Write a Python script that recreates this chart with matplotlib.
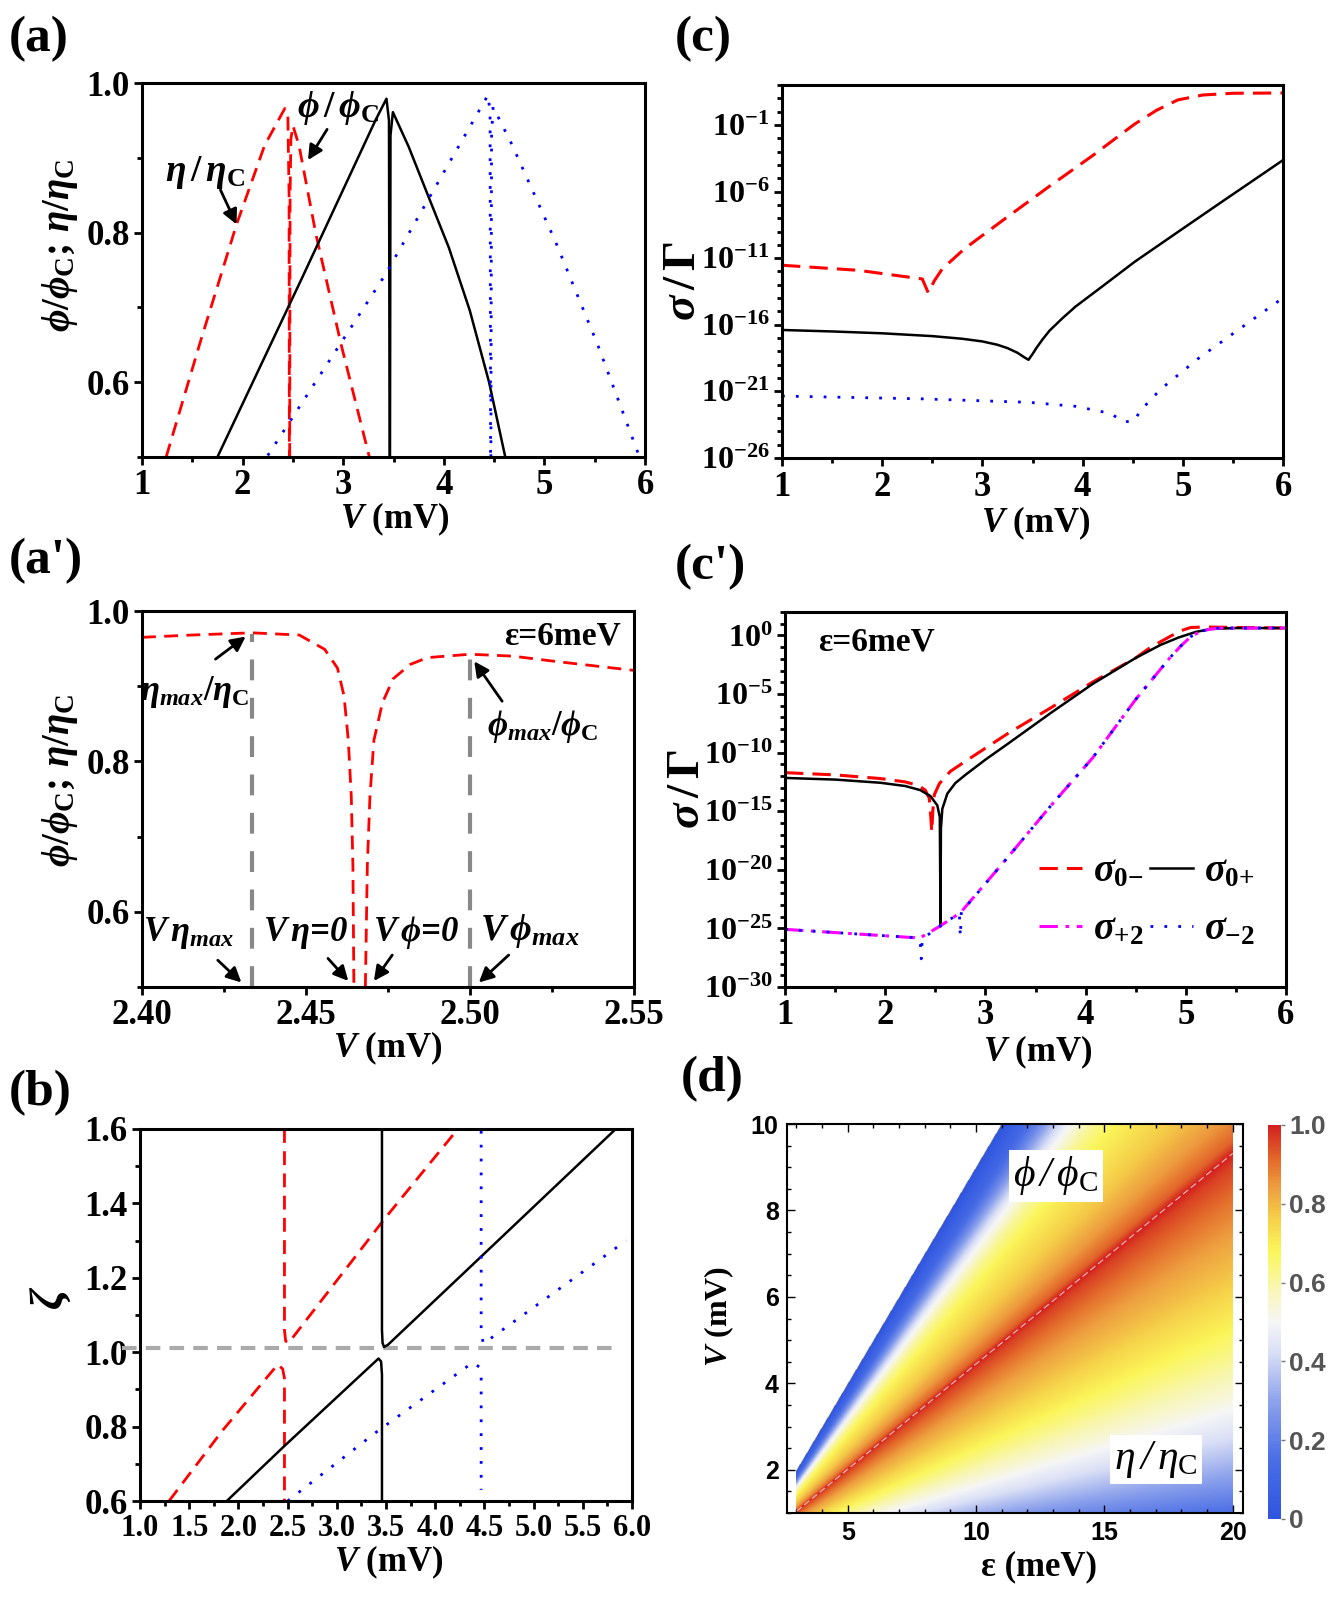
import numpy as np
import matplotlib.pyplot as plt
from matplotlib.colors import LinearSegmentedColormap
from matplotlib.ticker import FixedLocator, MultipleLocator, FuncFormatter

plt.rcParams['font.family'] = ['Liberation Serif', 'DejaVu Serif']
plt.rcParams['font.weight'] = 'bold'
plt.rcParams['mathtext.fontset'] = 'custom'
plt.rcParams['mathtext.rm'] = 'Liberation Serif:bold'
plt.rcParams['mathtext.it'] = 'Liberation Serif:italic:bold'
plt.rcParams['mathtext.bf'] = 'Liberation Serif:bold'
plt.rcParams['mathtext.sf'] = 'Liberation Serif:italic:regular'
plt.rcParams['mathtext.tt'] = 'Liberation Serif:regular'

# ---------------- data ----------------
# (a)  phi/phiC and eta/etaC vs V
a_red_eta_V = [1.24, 1.58, 1.94, 2.22, 2.42, 2.45, 2.462, 2.465]
a_red_eta_y = [0.50, 0.654, 0.811, 0.917, 0.966, 0.955, 0.85, 0.50]
a_red_phi_V = [2.468, 2.472, 2.48, 2.50, 2.56, 2.73, 2.98, 3.26]
a_red_phi_y = [0.50, 0.85, 0.925, 0.943, 0.917, 0.797, 0.650, 0.50]
a_blk_eta_V = [1.75, 2.60, 3.32, 3.43, 3.455, 3.462]
a_blk_eta_y = [0.50, 0.742, 0.950, 0.979, 0.95, 0.50]
a_blk_phi_V = [3.465, 3.47, 3.494, 3.65, 3.833, 4.05, 4.258, 4.45, 4.611]
a_blk_phi_y = [0.50, 0.93, 0.961, 0.915, 0.853, 0.78, 0.696, 0.60, 0.50]
a_blu_eta_V = [2.25, 3.41, 4.44, 4.46, 4.465]
a_blu_eta_y = [0.502, 0.742, 0.984, 0.96, 0.50]
a_blu_phi_V = [4.468, 4.475, 4.49, 4.68, 5.11, 5.53, 5.94]
a_blu_phi_y = [0.50, 0.93, 0.968, 0.917, 0.788, 0.650, 0.502]

# (a') zoom at eps = 6 meV
ap_eta_V = [2.400, 2.415, 2.4335, 2.448, 2.4557, 2.4596, 2.4616, 2.4629, 2.4638, 2.4643, 2.4646]
ap_eta_y = [0.965, 0.968, 0.971, 0.968, 0.949, 0.924, 0.887, 0.828, 0.754, 0.662, 0.50]
ap_phi_V = [2.4681, 2.4687, 2.4695, 2.4707, 2.4733, 2.4766, 2.4818, 2.487, 2.500, 2.513, 2.526, 2.550]
ap_phi_y = [0.50, 0.662, 0.754, 0.828, 0.878, 0.910, 0.929, 0.938, 0.9425, 0.940, 0.933, 0.921]
ap_marks_V = [2.4335, 2.500]
ap_marks_top = [0.970, 0.943]

# (b) zeta vs V
b_red_eta_V = [1.295, 1.84, 2.40, 2.45, 2.468, 2.468]
b_red_eta_z = [0.60, 0.79, 0.967, 0.955, 0.93, 0.60]
b_red_phi_V = [2.468, 2.468, 2.48, 2.51, 3.49, 4.23]
b_red_phi_z = [1.60, 1.06, 1.03, 1.025, 1.36, 1.60]
b_blk_eta_V = [1.882, 2.468, 3.424, 3.45, 3.459, 3.459]
b_blk_eta_z = [0.60, 0.748, 0.983, 0.975, 0.94, 0.60]
b_blk_phi_V = [3.459, 3.459, 3.465, 3.48, 3.52, 4.467, 5.835]
b_blk_phi_z = [1.60, 1.06, 1.025, 1.014, 1.02, 1.257, 1.60]
b_blu_eta_V = [2.50, 3.40, 4.38, 4.45, 4.467, 4.467]
b_blu_eta_z = [0.60, 0.785, 0.972, 0.96, 0.93, 0.63]
b_blu_phi_V = [4.467, 4.467, 4.49, 5.94]
b_blu_phi_z = [1.595, 1.05, 1.023, 1.30]
b_ref_V = [0.82, 5.83]
b_ref_z = [1.012, 1.012]

# (c) log10(sigma/Gamma) vs V
c_red_V = [1.0, 1.76, 2.40, 2.46, 2.52, 2.60, 2.82, 3.25, 3.67, 4.10, 4.52, 4.74, 4.95, 5.2, 5.5, 6.0]
c_red_L = [-11.53, -11.91, -12.56, -13.6, -12.7, -11.8, -10.3, -7.9, -5.6, -3.3, -0.93, 0.11, 0.88, 1.25, 1.38, 1.40]
c_blk_V = [1.0, 1.5, 2.0, 2.5, 2.8, 3.0, 3.15, 3.25, 3.35, 3.42, 3.46, 3.50, 3.54, 3.60, 3.67, 3.8,
           3.93, 4.2, 4.52, 5.0, 5.37, 6.0]
c_blk_L = [-16.39, -16.5, -16.64, -16.85, -17.05, -17.25, -17.5, -17.75, -18.1, -18.45, -18.63, -18.2,
           -17.73, -17.1, -16.44, -15.5, -14.63, -13.1, -11.27, -8.78, -6.87, -3.64]
c_blu_V = [1.0, 2.40, 3.46, 3.93, 4.27, 4.42, 4.52, 4.57, 4.78, 5.16, 6.0]
c_blu_L = [-21.35, -21.56, -21.82, -22.12, -22.64, -23.29, -23.2, -22.5, -20.83, -18.5, -13.98]

# (c') log10(sigma/Gamma) vs V at eps = 6 meV
cp_red_V = [1.0, 1.5, 1.95, 2.2, 2.33, 2.40, 2.44, 2.455, 2.465, 2.475, 2.49, 2.54, 2.65, 2.8, 3.22,
            3.65, 4.07, 4.5, 4.65, 4.84, 4.95, 5.05, 5.2, 5.5, 6.0]
cp_red_L = [-11.71, -11.9, -12.21, -12.5, -12.8, -13.2, -13.9, -15.5, -16.76, -15.0, -13.6, -12.65,
            -11.6, -10.74, -8.39, -6.19, -3.98, -1.92, -1.0, -0.1, 0.4, 0.68, 0.72, 0.68, 0.63]
cp_blk_V = [1.0, 1.5, 1.95, 2.2, 2.35, 2.45, 2.52, 2.545, 2.552, 2.556, 2.57, 2.62, 2.7, 2.8, 3.0,
            3.22, 3.65, 4.07, 4.5, 4.75, 4.93, 5.1, 5.25, 5.5, 6.0]
cp_blk_L = [-12.16, -12.3, -12.57, -12.85, -13.2, -13.7, -14.5, -15.5, -24.84, -16.5, -14.8, -13.5,
            -12.6, -11.9, -10.6, -9.27, -6.63, -4.14, -1.92, -0.8, -0.17, 0.3, 0.55, 0.63, 0.63]
cp_mag_V = [1.0, 2.29, 2.33, 2.54, 2.75, 3.22, 3.65, 4.07, 4.50, 4.84, 4.95, 5.05, 5.15, 5.25, 5.35, 6.0]
cp_mag_L = [-25.08, -25.79, -25.9, -24.84, -23.67, -18.97, -14.56, -10.45, -5.46, -1.92, -0.9, -0.1,
            0.35, 0.55, 0.63, 0.63]
cp_blu_V = [1.0, 2.29, 2.35, 2.36, 2.37, 2.54, 2.74, 2.75, 2.76, 3.22, 3.65, 4.07, 4.50, 4.84, 4.95,
            5.05, 5.15, 5.25, 5.35, 6.0]
cp_blu_L = [-25.08, -25.79, -26.2, -27.6, -25.9, -24.84, -23.7, -25.7, -23.6, -18.97, -14.56, -10.45,
            -5.46, -1.92, -0.9, -0.1, 0.35, 0.55, 0.63, 0.63]

# (d) map: ridge (max) line, upper data edge and profiles read across the map
ridge_eps = [3.0, 20.0]
ridge_V = [1.04, 9.32]
edge_eps = [3.0, 11.0]
edge_V = [1.97, 10.0]
eta_s = [0, 0.1, 0.2, 0.3, 0.4, 0.5, 0.6, 0.7, 0.8, 0.9, 0.97, 1.0]
eta_val = [0.0, 0.14, 0.30, 0.43, 0.54, 0.63, 0.71, 0.78, 0.84, 0.91, 0.96, 1.0]
phi_t = [0, 0.03, 0.1, 0.2, 0.3, 0.4, 0.5, 0.6, 0.67, 0.75, 0.85, 1.0]
phi_val = [1.0, 0.92, 0.85, 0.78, 0.73, 0.68, 0.60, 0.48, 0.36, 0.22, 0.10, 0.0]

# ---------------- figure ----------------
W, H = 1332, 1599
fig = plt.figure(figsize=(W / 100, H / 100), dpi=100)


def box(l, t, r, b):
    return [l / W, 1 - b / H, (r - l) / W, (b - t) / H]


def style(ax, lsize=25):
    for s in ax.spines.values():
        s.set_linewidth(2.2)
    ax.tick_params(which='both', direction='out', width=2, top=False, right=False,
                   labelsize=lsize, pad=3)
    ax.tick_params(which='major', length=6)
    ax.tick_params(which='minor', length=3.5)


RED = '#ff0000'
BLU = '#0000ff'
dash = (0, (5, 3))
dot = (0, (1, 4))
arr = dict(arrowstyle='-|>', color='k', lw=2, mutation_scale=22, shrinkA=0, shrinkB=0)
ylab_ratio = r'$\phi/\phi_{\rm C};\,\eta/\eta_{\rm C}$'
xlab_V = r'$V$ (mV)'

# (a)
ax = fig.add_axes(box(142, 83, 645, 457))
ax.plot(a_red_eta_V, a_red_eta_y, color=RED, lw=2, ls=dash)
ax.plot(a_red_phi_V, a_red_phi_y, color=RED, lw=2, ls=dash)
ax.plot(a_blk_eta_V, a_blk_eta_y, color='k', lw=1.8)
ax.plot(a_blk_phi_V, a_blk_phi_y, color='k', lw=1.8)
ax.plot(a_blu_eta_V, a_blu_eta_y, color=BLU, lw=2, ls=dot)
ax.plot(a_blu_phi_V, a_blu_phi_y, color=BLU, lw=2, ls=dot)
ax.set_xlim(1, 6)
ax.set_ylim(0.5, 1.0)
ax.xaxis.set_major_locator(MultipleLocator(1))
ax.xaxis.set_minor_locator(MultipleLocator(0.5))
ax.yaxis.set_major_locator(FixedLocator([0.6, 0.8, 1.0]))
ax.yaxis.set_minor_locator(FixedLocator([0.5, 0.7, 0.9]))
ax.yaxis.set_major_formatter(FuncFormatter(lambda v, p: f'{v:.1f}'))
style(ax)
ax.annotate('', xy=(2.65, 0.897), xytext=(2.84, 0.938), arrowprops=arr)
ax.text(2.95, 0.967, r'$\phi\,/\,\phi_{\rm C}$', fontsize=27, ha='center', va='center')
ax.annotate('', xy=(1.94, 0.811), xytext=(1.78, 0.857), arrowprops=arr)
ax.text(1.63, 0.881, r'$\eta\,/\,\eta_{\rm C}$', fontsize=27, ha='center', va='center')
fig.text(60 / W, 1 - 245 / H, ylab_ratio, rotation=90, ha='center', va='center', fontsize=28)
fig.text(395 / W, 1 - 519 / H, xlab_V, ha='center', va='center', fontsize=25)

# (a')
ax = fig.add_axes(box(142, 611, 634, 987))
ax.vlines(ap_marks_V, 0.5, ap_marks_top, colors='#888888', lw=3, linestyles=[(0, (5, 4.2))])
ax.plot(ap_eta_V, ap_eta_y, color=RED, lw=2, ls=dash)
ax.plot(ap_phi_V, ap_phi_y, color=RED, lw=2, ls=dash)
ax.set_xlim(2.40, 2.55)
ax.set_ylim(0.5, 1.0)
ax.xaxis.set_major_locator(FixedLocator([2.40, 2.45, 2.50, 2.55]))
ax.xaxis.set_minor_locator(FixedLocator([2.425, 2.475, 2.525]))
ax.xaxis.set_major_formatter(FuncFormatter(lambda v, p: f'{v:.2f}'))
ax.yaxis.set_major_locator(FixedLocator([0.6, 0.8, 1.0]))
ax.yaxis.set_minor_locator(FixedLocator([0.5, 0.7, 0.9]))
ax.yaxis.set_major_formatter(FuncFormatter(lambda v, p: f'{v:.1f}'))
style(ax)
ax.text(2.546, 0.967, 'ε=6meV', ha='right', va='center', fontsize=24)
ax.annotate('', xy=(2.4316, 0.966), xytext=(2.4224, 0.936), arrowprops=arr)
ax.text(2.4162, 0.892, r'$\eta_{max}/\eta_{\rm C}$', fontsize=25, ha='center', va='center')
ax.annotate('', xy=(2.5013, 0.933), xytext=(2.5098, 0.880), arrowprops=arr)
ax.text(2.5222, 0.846, r'$\phi_{max}/\phi_{\rm C}$', fontsize=25, ha='center', va='center')
ax.text(2.4142, 0.572, r'$V\,\eta_{max}$', fontsize=25, ha='center', va='center')
ax.annotate('', xy=(2.4303, 0.506), xytext=(2.4231, 0.5356), arrowprops=arr)
ax.text(2.450, 0.572, r'$V\,\eta$=0', fontsize=25, fontstyle='italic', ha='center', va='center')
ax.annotate('', xy=(2.4629, 0.508), xytext=(2.4567, 0.538), arrowprops=arr)
ax.text(2.4837, 0.572, r'$V\,\phi$=0', fontsize=25, fontstyle='italic', ha='center', va='center')
ax.annotate('', xy=(2.4707, 0.508), xytext=(2.4763, 0.5425), arrowprops=arr)
ax.text(2.5183, 0.575, r'$V\,\phi_{max}$', fontsize=27, ha='center', va='center')
ax.annotate('', xy=(2.5027, 0.506), xytext=(2.5118, 0.5425), arrowprops=arr)
fig.text(60 / W, 1 - 780 / H, ylab_ratio, rotation=90, ha='center', va='center', fontsize=28)
fig.text(388 / W, 1 - 1048 / H, xlab_V, ha='center', va='center', fontsize=25)

# (b)
ax = fig.add_axes(box(140, 1129, 632, 1501))
ax.plot(b_ref_V, b_ref_z, color='#aaaaaa', lw=3, ls=(0, (3.5, 2.2)), clip_on=False)
ax.plot(b_red_eta_V, b_red_eta_z, color=RED, lw=2, ls=dash)
ax.plot(b_red_phi_V, b_red_phi_z, color=RED, lw=2, ls=dash)
ax.plot(b_blk_eta_V, b_blk_eta_z, color='k', lw=1.8)
ax.plot(b_blk_phi_V, b_blk_phi_z, color='k', lw=1.8)
ax.plot(b_blu_eta_V, b_blu_eta_z, color=BLU, lw=2, ls=dot)
ax.plot(b_blu_phi_V, b_blu_phi_z, color=BLU, lw=2, ls=dot)
ax.set_xlim(1, 6)
ax.set_ylim(0.6, 1.6)
ax.xaxis.set_major_locator(MultipleLocator(0.5))
ax.xaxis.set_minor_locator(MultipleLocator(0.25))
ax.xaxis.set_major_formatter(FuncFormatter(lambda v, p: f'{v:.1f}'))
ax.yaxis.set_major_locator(MultipleLocator(0.2))
ax.yaxis.set_minor_locator(MultipleLocator(0.1))
ax.yaxis.set_major_formatter(FuncFormatter(lambda v, p: f'{v:.1f}'))
style(ax)
ax.tick_params(axis='x', labelsize=22)
fig.text(51 / W, 1 - 1298 / H, r'$\zeta$', rotation=90, ha='center', va='center', fontsize=34)
fig.text(389 / W, 1 - 1562 / H, xlab_V, ha='center', va='center', fontsize=25)


def logfmt(v, p):
    return r'$\mathbf{10^{%d}}$' % int(round(np.log10(v)))


# (c)
ax = fig.add_axes(box(782, 85, 1283, 458))
ax.semilogy(c_red_V, 10.0 ** np.array(c_red_L), color=RED, lw=2.2, ls=(0, (6, 3)))
ax.semilogy(c_blk_V, 10.0 ** np.array(c_blk_L), color='k', lw=1.8)
ax.semilogy(c_blu_V, 10.0 ** np.array(c_blu_L), color=BLU, lw=2, ls=dot)
ax.set_xlim(1, 6)
ax.set_ylim(1e-26, 1e2)
ax.xaxis.set_major_locator(MultipleLocator(1))
ax.xaxis.set_minor_locator(MultipleLocator(0.5))
ax.yaxis.set_major_locator(FixedLocator([10.0 ** k for k in range(-26, 2, 5)]))
ax.yaxis.set_minor_locator(FixedLocator([10.0 ** k for k in range(-26, 3)]))
ax.yaxis.set_major_formatter(FuncFormatter(logfmt))
ax.yaxis.set_minor_formatter(FuncFormatter(lambda v, p: ''))
style(ax)
ax.tick_params(axis='y', labelsize=23)
fig.text(684 / W, 1 - 281 / H, r'$\sigma\,/\,\Gamma$', rotation=90, ha='center', va='center', fontsize=34)
fig.text(1036 / W, 1 - 523 / H, xlab_V, ha='center', va='center', fontsize=25)

# (c')
ax = fig.add_axes(box(785, 612, 1286, 987))
h1, = ax.semilogy(cp_red_V, 10.0 ** np.array(cp_red_L), color=RED, lw=2.2, ls=(0, (6, 3)))
h2, = ax.semilogy(cp_blk_V, 10.0 ** np.array(cp_blk_L), color='k', lw=1.8)
h3, = ax.semilogy(cp_mag_V, 10.0 ** np.array(cp_mag_L), color='#ff00ff', lw=2.2,
                  ls=(0, (6, 2.5, 1.2, 2.5)))
h4, = ax.semilogy(cp_blu_V, 10.0 ** np.array(cp_blu_L), color=BLU, lw=2, ls=dot)
ax.set_xlim(1, 6)
ax.set_ylim(1e-30, 1e2)
ax.xaxis.set_major_locator(MultipleLocator(1))
ax.xaxis.set_minor_locator(MultipleLocator(0.5))
ax.yaxis.set_major_locator(FixedLocator([10.0 ** k for k in range(-30, 1, 5)]))
ax.yaxis.set_minor_locator(FixedLocator([10.0 ** k for k in range(-30, 3)]))
ax.yaxis.set_major_formatter(FuncFormatter(logfmt))
ax.yaxis.set_minor_formatter(FuncFormatter(lambda v, p: ''))
style(ax)
ax.tick_params(axis='y', labelsize=23)
ax.text(1.33, 10 ** -0.6, 'ε=6meV', ha='left', va='center', fontsize=24)
ax.legend([h1, h3, h2, h4],
          [r'$\sigma_{\mathit{0}{-}}$', r'$\sigma_{{+}\mathit{2}}$', r'$\sigma_{\mathit{0}{+}}$',
           r'$\sigma_{{-}\mathit{2}}$'],
          ncol=2, loc='lower right', bbox_to_anchor=(0.985, 0.04), frameon=False, fontsize=28,
          handlelength=1.1, handletextpad=0.3, columnspacing=0.15, labelspacing=0.55, borderpad=0.1)
fig.text(688 / W, 1 - 789 / H, r'$\sigma\,/\,\Gamma$', rotation=90, ha='center', va='center', fontsize=34)
fig.text(1038 / W, 1 - 1052 / H, xlab_V, ha='center', va='center', fontsize=25)

# (d)
ax = fig.add_axes(box(787, 1124, 1243, 1513))
E, Vg = np.meshgrid(np.linspace(3, 20, 600), np.linspace(1, 10, 600))
vr = np.interp(E, ridge_eps, ridge_V)
vb = edge_V[0] + (E - edge_eps[0]) * (edge_V[1] - edge_V[0]) / (edge_eps[1] - edge_eps[0])
s = Vg / vr
t = (Vg - vr) / (vb - vr)
Z = np.where(Vg <= vr, np.interp(s, eta_s, eta_val), np.interp(t, phi_t, phi_val))
Z = np.where(Vg > vb, np.nan, Z)
cmap = LinearSegmentedColormap.from_list('bwyr', [
    (0.0, '#2f55e0'), (0.15, '#4a6ee6'), (0.3, '#8ea3ec'), (0.42, '#d8def6'), (0.5, '#f6f6f6'),
    (0.58, '#f8f6b8'), (0.68, '#fbf65a'), (0.76, '#f6d24a'), (0.84, '#eea040'), (0.91, '#e46c2c'),
    (0.97, '#d83a22'), (1.0, '#d42020')])
im = ax.imshow(Z, extent=[3, 20, 1, 10], origin='lower', aspect='auto', cmap=cmap,
               vmin=0, vmax=1, interpolation='bilinear')
ax.plot(ridge_eps, ridge_V, color='white', lw=0.8, ls=(0, (6, 3)), alpha=0.7)
ax.set_xlim(2.63, 20.4)
ax.set_ylim(1, 10)
ax.xaxis.set_major_locator(FixedLocator([5, 10, 15, 20]))
ax.xaxis.set_minor_locator(MultipleLocator(1))
ax.yaxis.set_major_locator(FixedLocator([2, 4, 6, 8, 10]))
ax.yaxis.set_minor_locator(MultipleLocator(0.5))
for sp in ax.spines.values():
    sp.set_linewidth(1.5)
ax.tick_params(which='both', direction='in', top=True, right=True, width=1, labelsize=18, pad=6)
ax.tick_params(which='major', length=6)
ax.tick_params(which='minor', length=3)
for lab in ax.get_xticklabels() + ax.get_yticklabels():
    lab.set_family('Liberation Sans')
ax.text(13.1, 8.8, r'$\mathsf{\phi\,/\,\phi}_{\mathtt{C}}$', fontsize=30, ha='center', va='center',
        bbox=dict(facecolor='white', edgecolor='none', pad=3))
ax.text(17.0, 2.24, r'$\mathsf{\eta\,/\,\eta}_{\mathtt{C}}$', fontsize=30, ha='center', va='center',
        bbox=dict(facecolor='white', edgecolor='none', pad=3))
fig.text(719 / W, 1 - 1316 / H, xlab_V, rotation=90, ha='center', va='center', fontsize=23)
fig.text(1039 / W, 1 - 1567 / H, 'ε (meV)', ha='center', va='center', fontsize=25)

cax = fig.add_axes(box(1268, 1125, 1281, 1519))
cb = fig.colorbar(im, cax=cax)
cb.outline.set_visible(False)
cb.set_ticks([0, 0.2, 0.4, 0.6, 0.8, 1.0])
cb.set_ticklabels(['0', '0.2', '0.4', '0.6', '0.8', '1.0'])
cax.tick_params(length=3, width=1, color='#777777', labelcolor='#555555', labelsize=19, pad=3)
for lab in cax.get_yticklabels():
    lab.set_family('Liberation Sans')

# panel letters
for lbl, x, y in [('(a)', 9, 16), ('(c)', 675, 16), ("(a')", 9, 538), ("(c')", 675, 544),
                  ('(b)', 9, 1070), ('(d)', 681, 1056)]:
    fig.text(x / W, 1 - y / H, lbl, fontsize=37, ha='left', va='top')

fig.savefig('out.png', dpi=100)
